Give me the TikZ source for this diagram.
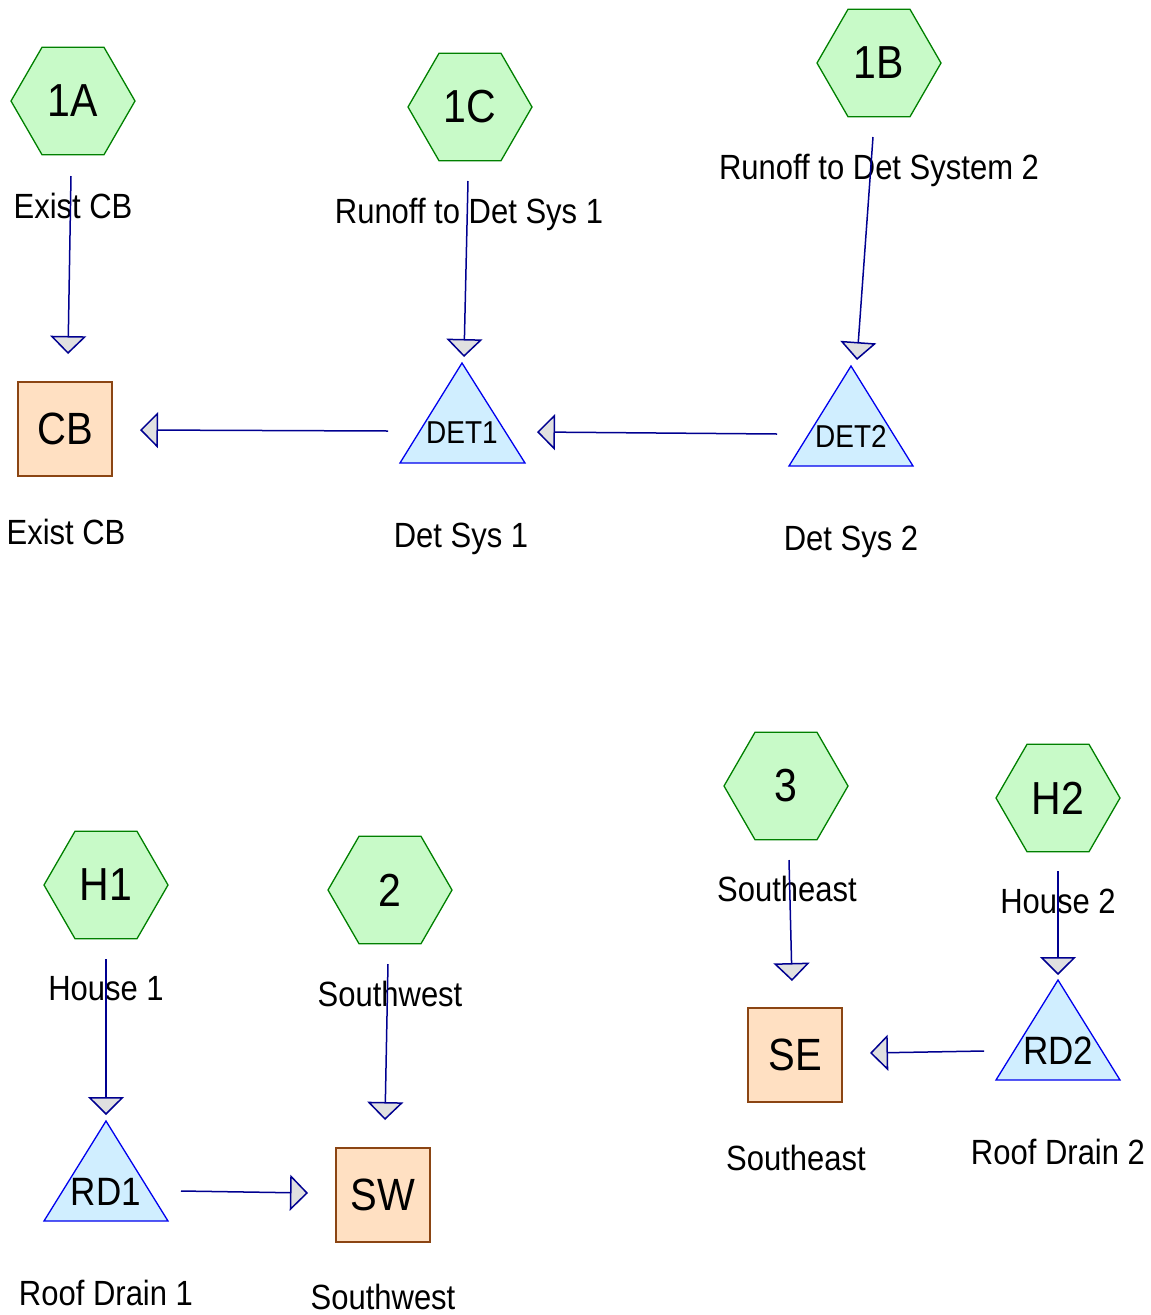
\documentclass[tikz,border=0pt]{standalone}
\usepackage{fontspec}
\setmainfont{Liberation Sans}
\usetikzlibrary{shapes.geometric,arrows.meta}
\definecolor{hexfill}{HTML}{C8FAC8}
\definecolor{hexdraw}{HTML}{008000}
\definecolor{sqfill}{HTML}{FFE0C2}
\definecolor{sqdraw}{HTML}{8B4513}
\definecolor{trifill}{HTML}{D0EEFF}
\definecolor{tridraw}{HTML}{0000EE}
\definecolor{flowcol}{HTML}{000090}
\definecolor{headfill}{HTML}{E0E0E0}
\newcommand{\vstr}[1]{\scalebox{1}[1.13]{#1}}
\tikzset{
  hex/.style={regular polygon,regular polygon sides=6,minimum size=124pt,inner sep=0pt,
    fill=hexfill,draw=hexdraw,line width=1.3pt,font=\fontsize{41}{41}\selectfont},
  hextext/.style={inner sep=0pt,font=\fontsize{41}{41}\selectfont},
  sq/.style={rectangle,minimum size=94pt,inner sep=0pt,fill=sqfill,draw=sqdraw,line width=1.3pt,
    font=\fontsize{40}{40}\selectfont},
  trishape/.style={fill=trifill,draw=tridraw,line width=1.3pt},
  tritext/.style={inner sep=0pt},
  lbl/.style={anchor=base,inner sep=0pt,font=\fontsize{31}{31}\selectfont},
  flow/.style={draw=flowcol,line width=1.5pt,-{Triangle[width=36pt,length=18pt,fill=headfill]}},
}
\begin{document}
\begin{tikzpicture}[x=1pt,y=-1pt]
\useasboundingbox (0,0) rectangle (1151,1315);
% hexagons
\node[hex] (h1A) at (73,101) {};
\node[hex] (h1C) at (470,107) {};
\node[hex] (h1B) at (879,63) {};
\node[hex] (hH1) at (106,885) {};
\node[hex] (h2) at (390,890) {};
\node[hex] (h3) at (786,786) {};
\node[hex] (hH2) at (1058,798) {};
\node[hextext] (t1A) at (h1A) {\vstr{1A}};
\node[hextext] (t1C) at (h1C) {\vstr{1C}};
\node[hextext] (t1B) at (h1B) {\vstr{1B}};
\node[hextext] (tH1) at (hH1) {\vstr{H1}};
\node[hextext] (t2) at (h2) {\vstr{2}};
\node[hextext] (t3) at (h3) {\vstr{3}};
\node[hextext] (tH2) at (hH2) {\vstr{H2}};
\node[lbl] (l1A) at (73,218) {\vstr{Exist CB}};
\node[lbl] (l1C) at (469,223) {\vstr{Runoff to Det Sys 1}};
\node[lbl] (l1B) at (879,179) {\vstr{Runoff to Det System 2}};
\node[lbl] (lH1) at (106,1000) {\vstr{House 1}};
\node[lbl] (l2) at (390,1006) {\vstr{Southwest}};
\node[lbl] (l3) at (787,901) {\vstr{Southeast}};
\node[lbl] (lH2) at (1058,913) {\vstr{House 2}};
% squares
\node[sq] (CB) at (65,429) {\vstr{CB}};
\node[sq] (SW) at (383,1195) {\vstr{SW}};
\node[sq] (SE) at (795,1055) {\vstr{SE}};
\node[lbl] (lCB) at (66,544) {\vstr{Exist CB}};
\node[lbl] (lSW) at (383,1309) {\vstr{Southwest}};
\node[lbl] (lSE) at (796,1170) {\vstr{Southeast}};
% triangles
\path[trishape] (462,363) -- (525,463) -- (400,463) -- cycle;
\path[trishape] (851,366) -- (913,466) -- (789,466) -- cycle;
\path[trishape] (106,1121) -- (168,1221) -- (44,1221) -- cycle;
\path[trishape] (1058,980) -- (1120,1080) -- (996,1080) -- cycle;
\node[tritext,font=\fontsize{28}{28}\selectfont] (DET1) at (462,433) {\vstr{DET1}};
\node[tritext,font=\fontsize{28}{28}\selectfont] (DET2) at (851,436) {\vstr{DET2}};
\node[tritext,font=\fontsize{35}{35}\selectfont] (RD1) at (106,1192) {\vstr{RD1}};
\node[tritext,font=\fontsize{35}{35}\selectfont] (RD2) at (1058,1051) {\vstr{RD2}};
\node[lbl] (lDET1) at (461,547) {\vstr{Det Sys 1}};
\node[lbl] (lDET2) at (851,550) {\vstr{Det Sys 2}};
\node[lbl] (lRD1) at (106,1305) {\vstr{Roof Drain 1}};
\node[lbl] (lRD2) at (1058,1164) {\vstr{Roof Drain 2}};
% connector ends
\coordinate (s1A) at (71,176);   \coordinate (e1A) at (68,354);
\coordinate (s1C) at (468,181);  \coordinate (e1C) at (464,357);
\coordinate (s1B) at (873,137);  \coordinate (e1B) at (857,360);
\coordinate (sD1) at (388,431);  \coordinate (eD1) at (140,430);
\coordinate (sD2) at (777,434);  \coordinate (eD2) at (537,432);
\coordinate (sH1) at (106,959);  \coordinate (eH1) at (106,1115);
\coordinate (s2) at (388,964);   \coordinate (e2) at (385,1120);
\coordinate (s3) at (789,860);   \coordinate (e3) at (792,981);
\coordinate (sH2) at (1058,871); \coordinate (eH2) at (1058,975);
\coordinate (sR1) at (181,1191); \coordinate (eR1) at (308,1193);
\coordinate (sR2) at (984,1051); \coordinate (eR2) at (870,1053);
% connectors
\draw[flow] (s1A) -- (e1A);
\draw[flow] (s1C) -- (e1C);
\draw[flow] (s1B) -- (e1B);
\draw[flow] (sD1) -- (eD1);
\draw[flow] (sD2) -- (eD2);
\draw[flow] (sH1) -- (eH1);
\draw[flow] (s2) -- (e2);
\draw[flow] (s3) -- (e3);
\draw[flow] (sH2) -- (eH2);
\draw[flow] (sR1) -- (eR1);
\draw[flow] (sR2) -- (eR2);
\end{tikzpicture}
\end{document}
